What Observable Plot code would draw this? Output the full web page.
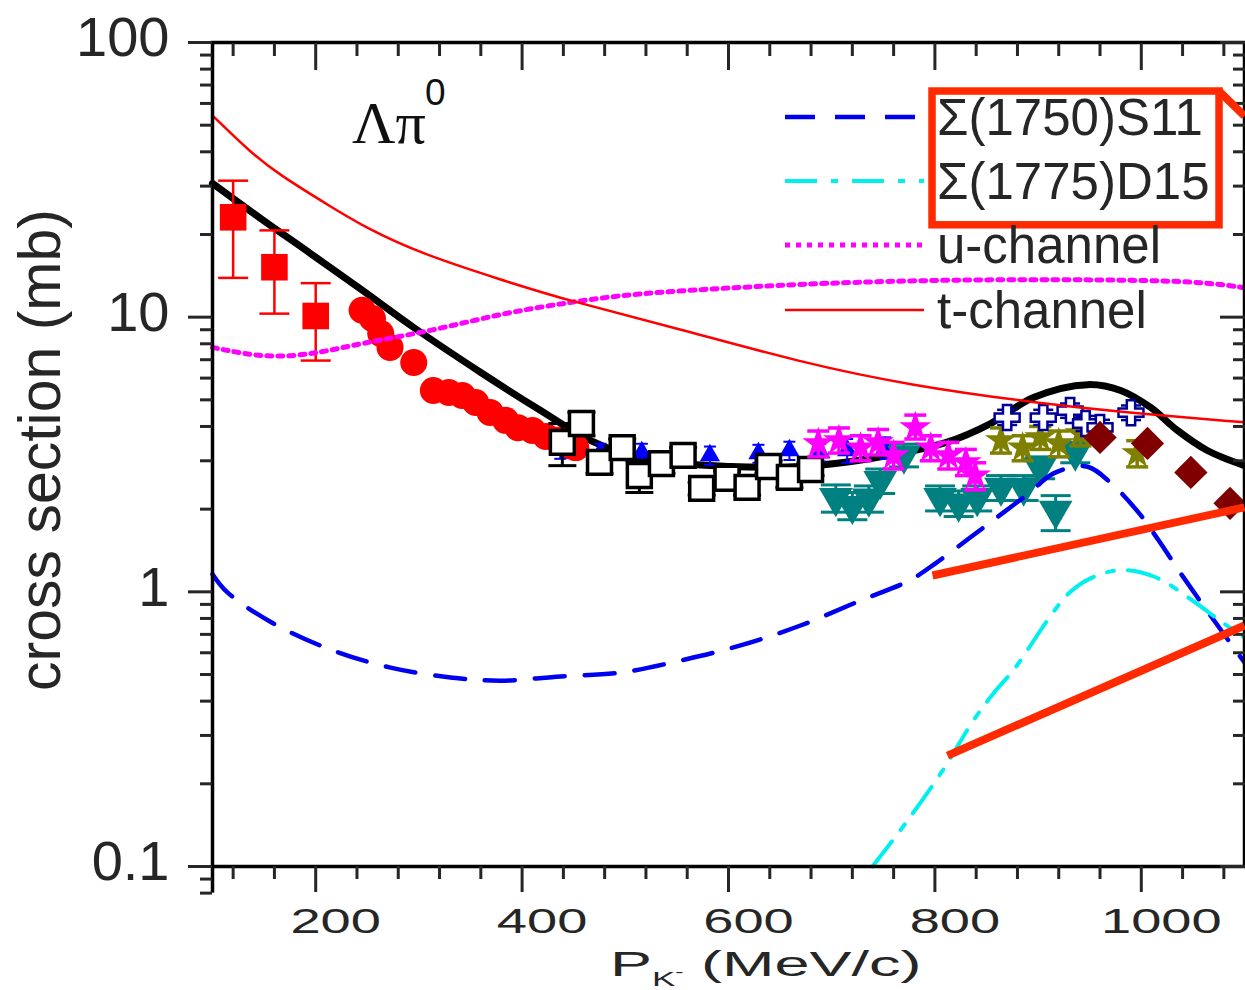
<!DOCTYPE html>
<html><head><meta charset="utf-8">
<script src="https://cdn.jsdelivr.net/npm/d3@7"></script>
<script src="https://cdn.jsdelivr.net/npm/@observablehq/plot@0.6"></script>
<style>
html,body{margin:0;padding:0;background:#fff;}
#chart{width:1245px;height:990px;overflow:hidden;}
</style></head><body><div id="chart"></div>
<script>
// ---------- ticks ----------
const xMajorTicks = [200, 400, 600, 800, 1000];
const xTickLabels = ["200", "400", "600", "800", "1000"];
const xMinorTicks = [120,160,240,280,320,360,440,480,520,560,640,680,720,760,840,880,920,960,1040,1080];
const yMajorTicks = [0.1, 1, 10, 100];
const yTickLabels = ["0.1", "1", "10", "100"];
const yMinorTicks = [0.2,0.3,0.4,0.5,0.6,0.7,0.8,0.9,2,3,4,5,6,7,8,9,20,30,40,50,60,70,80,90];
const yLowTicks = [0.09, 0.08];

// ---------- model curves ----------
const totalX = [100,146.5,195,243,295,360,418,466,515,602,670,738,811,854,895.5,948,980,1009,1035,1064,1100];
const totalY = [30.7,22.9,17.05,12.7,9.17,6.29,4.57,3.56,3.06,2.86,2.86,3.06,3.50,4.10,5.10,5.68,5.41,4.69,3.87,3.27,2.88];
const tChanX = [100,136.8,163,217.2,250.2,301.6,379,444,551,669.8,776.4,902.3,982.8,1100];
const tChanY = [54.2,39.8,33.3,24.9,21.0,17.06,13.7,11.5,9.1,6.84,5.64,4.85,4.50,4.14];
const uChanX = [100,153,202,243,314,379,444,508,605,689,815,960,1057,1100];
const uChanY = [7.76,7.07,7.38,8.02,8.94,10.3,11.3,12.2,12.8,13.3,13.7,13.7,13.5,12.8];
const s11X = [100,114.5,159,217,272.5,330.6,379,437,495,553.5,611.6,669.8,728,775.4,800.6,832.6,858.7,890.7,915,947,970,998,1016.7,1038,1067,1100];
const s11Y = [1.16,0.995,0.767,0.611,0.530,0.488,0.475,0.492,0.508,0.562,0.638,0.754,0.930,1.10,1.27,1.56,1.85,2.28,2.70,2.86,2.50,1.93,1.54,1.17,0.82,0.553];
const d15X = [739.5,773.5,809.3,835.5,856.8,878,909,929.5,950.8,979.8,1013.8,1049.6,1075.8,1100];
const d15Y = [0.1,0.147,0.229,0.332,0.427,0.530,0.787,0.986,1.12,1.20,1.13,0.93,0.787,0.682];

// ---------- experimental points ----------
const rsX = [120,160,200];
const rsY = [23.1,15.2,10.1];
const rsLo = [13.9,10.3,6.95];
const rsHi = [31.4,20.7,13.3];

const rcX = [245,255,263,272,295,314,329,342,355,369,384,396,410,423,435,447,452];
const rcY = [10.6,9.89,8.72,7.76,6.84,5.41,5.32,5.19,4.89,4.50,4.21,3.96,3.87,3.68,3.56,3.4,3.35];

const osX = [439,457.5,475,497,513.6,535,556,574,598.6,618,638.8,659,679.5];
const osY = [3.50,4.10,2.96,3.35,2.65,2.93,3.14,2.38,2.59,2.40,2.86,2.61,2.79];
const osLo = [2.88,3.7,2.7,3.1,2.30,2.7,2.95,2.25,2.45,2.25,2.7,2.4,2.65];
const osHi = [4.1,4.5,3.2,3.6,3.0,3.15,3.35,2.5,2.75,2.55,3.0,2.8,2.95];

const btX = [437,476,516,582,629,659,689,715,752];
const btY = [3.3,3.22,3.22,3.14,3.19,3.27,3.22,3.27,3.35];
const btLo = [3.05,2.98,2.98,2.9,2.95,3.02,2.98,2.95,3.05];
const btHi = [3.55,3.46,3.46,3.38,3.43,3.52,3.46,3.6,3.65];

const mgX = [687,707,728,745,760,781,796,813,830,839];
const mgY = [3.47,3.56,3.35,3.50,3.14,3.97,3.35,3.14,2.96,2.65];
const mgLo = [3.1,3.2,3.0,3.15,2.8,3.6,3.0,2.8,2.65,2.35];
const mgHi = [3.85,3.95,3.7,3.9,3.5,4.4,3.7,3.5,3.3,2.95];

const tlX = [704,720,736,747,770,805,823,841,864,886,902,917,936];
const tlY = [2.20,2.06,2.19,2.54,3.14,2.20,2.10,2.20,2.40,2.40,2.84,1.98,3.22];
const tlLo = [1.95,1.83,1.95,2.28,2.85,1.97,1.88,1.97,2.15,2.15,2.58,1.67,2.95];
const tlHi = [2.45,2.3,2.43,2.8,3.45,2.43,2.33,2.43,2.65,2.65,3.1,2.24,3.5];

const olX = [864,885,902,920,941,996];
const olY = [3.56,3.35,3.65,3.47,3.77,3.19];
const olLo = [3.2,3.0,3.3,3.1,3.4,2.85];
const olHi = [3.95,3.7,4.0,3.85,4.15,3.55];

const nvX = [870,905,931,946,960,990];
const nvY = [4.31,4.31,4.57,4.10,3.97,4.49];
const nvLo = [4.05,4.05,4.3,3.85,3.72,4.22];
const nvHi = [4.6,4.6,4.85,4.37,4.23,4.77];

const mrX = [960,1006,1048,1086];
const mrY = [3.65,3.47,2.72,2.10];

// ---------- legend & annotations ----------
const legendLabels = ["\u03A3(1750)S11", "\u03A3(1775)D15", "u-channel", "t-channel"];
const legendColors = ["#0000f0", "#00f0f0", "#ff00ff", "#ff0000"];
const legendDash = ["30,20", "32,14,7,14", "5,6", null];
const legendWidth = [4.5, 4, 5, 2.5];

const annoBox = [{x1: 797.7, x2: 1075.8, y1: 21.6, y2: 66.3}];
const annoLinks = [
  {x1: 1075.8, y1: 66.3, x2: 1100, y2: 54},
  {x1: 797.7, y1: 1.147, x2: 1100, y2: 2.03},
  {x1: 812.2, y1: 0.2535, x2: 1100, y2: 0.754}
];

// ---------- helpers ----------
const rows = (xs, ys, lo, hi) => xs.map((x, i) => ({x, y: ys[i], lo: lo ? lo[i] : null, hi: hi ? hi[i] : null}));
const hcap = {draw(ctx, size) { const w = Math.sqrt(size / Math.PI); ctx.moveTo(-w, 0); ctx.lineTo(w, 0); }};
function errorBars(data, color, capR, sw) {
  return [
    Plot.ruleX(data, {x: "x", y1: "lo", y2: "hi", stroke: color, strokeWidth: sw}),
    Plot.dot(data, {x: "x", y: "lo", symbol: hcap, r: capR, stroke: color, strokeWidth: sw, fill: "none"}),
    Plot.dot(data, {x: "x", y: "hi", symbol: hcap, r: capR, stroke: color, strokeWidth: sw, fill: "none"})
  ];
}

const FONT = "'Liberation Sans', Arial, Helvetica, sans-serif";
const TEXT = "#262626";
const ANNO = "#ff2a00";

const total = rows(totalX, totalY), tChan = rows(tChanX, tChanY), uChan = rows(uChanX, uChanY);
const s11 = rows(s11X, s11Y), d15 = rows(d15X, d15Y);
const rs = rows(rsX, rsY, rsLo, rsHi), rc = rows(rcX, rcY), os = rows(osX, osY, osLo, osHi);
const bt = rows(btX, btY, btLo, btHi), mg = rows(mgX, mgY, mgLo, mgHi), tl = rows(tlX, tlY, tlLo, tlHi);
const ol = rows(olX, olY, olLo, olHi), nv = rows(nvX, nvY, nvLo, nvHi), mr = rows(mrX, mrY);

const lineOpt = {x: "x", y: "y", curve: "catmull-rom"};
const smoothOpt = {x: "x", y: "y", curve: "basis"};

const chart = Plot.plot({
  width: 1245, height: 990,
  marginLeft: 212, marginRight: 1, marginTop: 42, marginBottom: 124,
  style: {fontFamily: FONT, background: "white", color: TEXT},
  x: {domain: [100, 1100]},
  y: {type: "log", domain: [0.1, 100]},
  marks: [
    Plot.line(total, {...lineOpt, stroke: "black", strokeWidth: 7}),
    errorBars(rs, "#ff0000", 15, 2.5),
    Plot.dot(rs, {x: "x", y: "y", symbol: "square", r: 15, fill: "#ff0000", stroke: "none"}),
    Plot.dot(rc, {x: "x", y: "y", symbol: "circle", r: 13.5, fill: "#ff0000", stroke: "none"}),
    errorBars(bt, "#0000ff", 6, 2),
    Plot.dot(bt, {x: "x", y: "y", symbol: "triangle", r: 7.5, fill: "#0000ff", stroke: "none"}),
    errorBars(os, "black", 14, 3),
    Plot.dot(os, {x: "x", y: "y", symbol: "square", r: 13.5, fill: "white", stroke: "black", strokeWidth: 3.5}),
    errorBars(tl, "#008080", 15, 3),
    Plot.dot(tl, {x: "x", y: "y", symbol: "triangle", rotate: 180, r: 12.5, fill: "#008080", stroke: "none"}),
    errorBars(mg, "#ff00ff", 11, 3.5),
    Plot.dot(mg, {x: "x", y: "y", symbol: "star", r: 10, fill: "#ff00ff", stroke: "none"}),
    errorBars(ol, "#808000", 11, 3.5),
    Plot.dot(ol, {x: "x", y: "y", symbol: "star", r: 10, fill: "#808000", stroke: "none"}),
    errorBars(nv, "#000099", 10, 2.5),
    Plot.dot(nv, {x: "x", y: "y", symbol: "cross", r: 10.5, fill: "white", stroke: "#000099", strokeWidth: 2.5}),
    Plot.dot(mr, {x: "x", y: "y", symbol: "diamond2", r: 15, fill: "#800000", stroke: "none"}),
    Plot.line(s11, {...lineOpt, stroke: legendColors[0], strokeWidth: legendWidth[0], strokeDasharray: legendDash[0]}),
    Plot.line(d15, {...lineOpt, stroke: legendColors[1], strokeWidth: legendWidth[1], strokeDasharray: legendDash[1]}),
    Plot.line(uChan, {...smoothOpt, stroke: legendColors[2], strokeWidth: legendWidth[2], strokeDasharray: legendDash[2]}),
    Plot.line(tChan, {...smoothOpt, stroke: legendColors[3], strokeWidth: legendWidth[3]}),
    // frame + axes
    Plot.frame({stroke: "black", strokeWidth: 3.5}),
    Plot.ruleX([100], {x: d => d, y1: 0.08, y2: 0.1, stroke: "black", strokeWidth: 3.5}),
    Plot.axisX({anchor: "bottom", ticks: xMajorTicks, tickSize: 26, fill: "none", strokeWidth: 3, label: null}),
    Plot.axisX({anchor: "bottom", ticks: xMinorTicks, tickSize: 13, fill: "none", strokeWidth: 3, label: null}),
    Plot.axisX({anchor: "top", ticks: xMajorTicks, tickSize: 27, dy: 27, fill: "none", strokeWidth: 3, label: null}),
    Plot.axisX({anchor: "top", ticks: xMinorTicks, tickSize: 13, dy: 13, fill: "none", strokeWidth: 3, label: null}),
    Plot.axisY({anchor: "left", ticks: yMajorTicks, tickSize: 24, fill: "none", strokeWidth: 3, label: null}),
    Plot.axisY({anchor: "left", ticks: [...yMinorTicks, ...yLowTicks], tickSize: 12, fill: "none", strokeWidth: 3, label: null}),
    Plot.axisY({anchor: "right", ticks: yMajorTicks, tickSize: 25, dx: -25, fill: "none", strokeWidth: 3, label: null}),
    Plot.axisY({anchor: "right", ticks: yMinorTicks, tickSize: 12, dx: -12, fill: "none", strokeWidth: 3, label: null}),
    Plot.axisX({anchor: "bottom", ticks: xMajorTicks, tickFormat: d => xTickLabels[xMajorTicks.indexOf(d)], tickSize: 0, tickPadding: 42, dx: 20, fontSize: 35, stroke: "none", fill: TEXT, label: null}),
    Plot.axisY({anchor: "left", ticks: yMajorTicks, tickFormat: d => yTickLabels[yMajorTicks.indexOf(d)], tickSize: 0, tickPadding: 43, dy: -4, fontSize: 56, stroke: "none", fill: TEXT, label: null}),
    // annotations
    Plot.rect(annoBox, {x1: "x1", x2: "x2", y1: "y1", y2: "y2", fill: "none", stroke: ANNO, strokeWidth: 7.5}),
    Plot.link(annoLinks, {x1: "x1", y1: "y1", x2: "x2", y2: "y2", stroke: ANNO, strokeWidth: 8})
  ]
});
document.getElementById("chart").appendChild(chart);

const svg = d3.select(chart);
// stretch x tick labels horizontally, as in the reference
svg.selectAll('g[aria-label="x-axis tick label"] text').each(function() {
  const t = d3.select(this);
  let tr = t.attr("transform");
  if (!tr) {
    const x = +t.attr("x") || 0, y = +t.attr("y") || 0;
    t.attr("x", null).attr("y", null);
    tr = `translate(${x},${y})`;
  }
  t.attr("transform", tr + " scale(1.55,1)");
});

// legend (layout in pixels)
const lg = svg.append("g").attr("text-anchor", "start");
const legendRowY = [117, 181, 245, 310];
legendLabels.forEach((label, i) => {
  const y = legendRowY[i];
  lg.append("line").attr("x1", 785).attr("x2", 924).attr("y1", y).attr("y2", y)
    .attr("stroke", legendColors[i]).attr("stroke-width", legendWidth[i])
    .attr("stroke-dasharray", legendDash[i]);
  lg.append("text").attr("x", 937).attr("y", y).attr("dy", "0.36em").attr("text-anchor", "start")
    .attr("font-family", FONT).attr("font-size", 51).attr("fill", TEXT).text(label);
});

// reaction label
const rl = svg.append("g").attr("text-anchor", "start");
rl.append("text").attr("x", 352).attr("y", 143).attr("font-family", "'Liberation Serif', 'Times New Roman', serif")
  .attr("font-size", 60).attr("fill", "#111").text("\u039B\u03C0");
rl.append("text").attr("x", 425).attr("y", 105).attr("font-family", FONT)
  .attr("font-size", 37).attr("fill", "#111").text("0");

// axis titles
const xt = svg.append("g").attr("transform", "translate(610,976) scale(1.75,1)");
const xtt = xt.append("text").attr("text-anchor", "start").attr("font-family", FONT).attr("fill", TEXT).attr("font-size", 36);
xtt.append("tspan").attr("y", 0).text("P");
xtt.append("tspan").attr("y", 10).attr("font-size", 20).text("K");
xtt.append("tspan").attr("y", 1).attr("font-size", 14).text("-");
xtt.append("tspan").attr("y", 0).text(" (MeV/c)");

svg.append("text").attr("transform", "translate(60,450) rotate(-90)")
  .attr("text-anchor", "middle").attr("font-family", FONT).attr("font-size", 59)
  .attr("fill", TEXT).text("cross section (mb)");
</script></body></html>
